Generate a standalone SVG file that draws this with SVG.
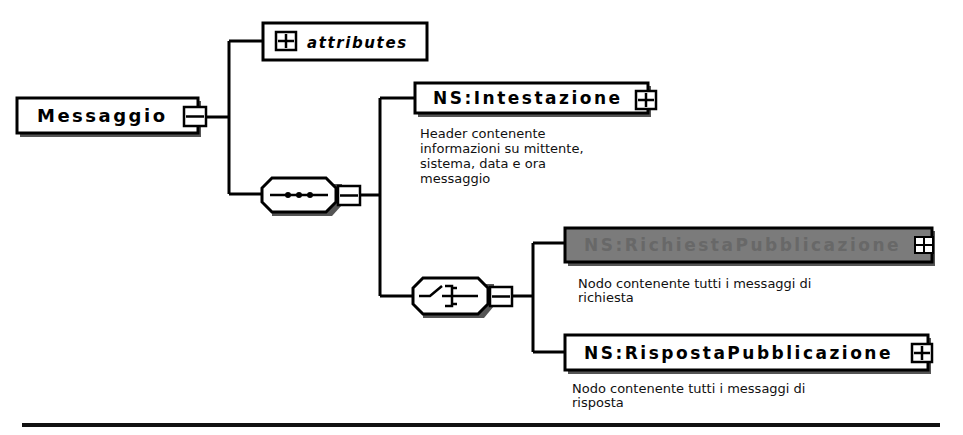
<svg xmlns="http://www.w3.org/2000/svg" width="963" height="435" viewBox="0 0 963 435">
<style>
.box{fill:#fff;stroke:#000;stroke-width:3}
.shadow{fill:#555}
.btn{fill:#fff;stroke:#000;stroke-width:2.5}
.t{font-family:"DejaVu Sans",Verdana,sans-serif;font-weight:bold;font-size:17px;letter-spacing:2.5px;fill:#000}
.d{font-family:"DejaVu Sans",Verdana,sans-serif;font-size:13px;fill:#111}
.c{fill:none;stroke:#000;stroke-width:3}
</style>
<defs>
<g id="plus"><rect class="btn" x="0" y="0" width="20" height="18"/><path d="M10 2V16M2 9H18" stroke="#000" stroke-width="2.5"/></g>
<g id="minus"><rect class="btn" x="0" y="0" width="22" height="19"/><path d="M2 9.5H20" stroke="#000" stroke-width="2.5"/></g>
</defs>
<rect width="963" height="435" fill="#fff"/>
<g id="connectors">
<path class="c" d="M206 117H229M229 41V194M229 41H263M229 194H262"/>
<path class="c" d="M360 195H380M380 98V296M380 98H415M380 296H413"/>
<path class="c" d="M512 296H533M533 243V352M533 243H565M533 352H565"/>
</g>
<g id="messaggio">
<rect class="shadow" x="20" y="101" width="181" height="36"/>
<rect class="box" x="17" y="98" width="181" height="35"/>
<text class="t" x="37" y="122" style="font-size:18px">Messaggio</text>
<use href="#minus" x="184" y="107"/>
</g>
<g id="attributes">
<rect class="box" x="263" y="23" width="164" height="37"/>
<use href="#plus" x="276" y="32"/>
<text class="t" x="307" y="48" style="font-style:italic;font-size:15px;letter-spacing:1.6px">attributes</text>
</g>
<g id="intestazione">
<rect class="shadow" x="418" y="86" width="233" height="31"/>
<rect class="box" x="415" y="83" width="233" height="30"/>
<text class="t" x="433" y="104">NS:Intestazione</text>
<use href="#plus" x="636" y="91"/>
<text class="d" x="420" y="138">Header contenente</text>
<text class="d" x="420" y="153">informazioni su mittente,</text>
<text class="d" x="420" y="168">sistema, data e ora</text>
<text class="d" x="420" y="183">messaggio</text>
</g>
<g id="sequence">
<path class="shadow" d="M272 184H342V205L332 216H272Z"/>
<path class="box" d="M272 178H326L336 188V202L326 212H272L262 202V188Z"/>
<path d="M270 195H328" stroke="#000" stroke-width="2.5"/>
<circle cx="288" cy="195" r="3"/><circle cx="299" cy="195" r="3"/><circle cx="310" cy="195" r="3"/>
<use href="#minus" x="338" y="186"/>
</g>
<g id="choice">
<path class="shadow" d="M423 284H494V306L484 318H423Z"/>
<path class="box" d="M423 278H478L488 288V304L478 314H423L413 304V288Z"/>
<path d="M419 296H430L442 286M442 296H478M445 286H452V306H445M452 288H457M452 296H457M452 304H457" fill="none" stroke="#000" stroke-width="2.5"/>
<use href="#minus" x="490" y="287"/>
</g>
<g id="richiesta">
<rect class="shadow" x="568" y="231" width="367" height="35"/>
<rect x="565" y="228" width="367" height="34" fill="#7b7b7b" stroke="#000" stroke-width="3"/>
<text class="t" x="584" y="251" style="fill:#686868">NS:RichiestaPubblicazione</text>
<g transform="translate(914,236)"><rect x="0" y="0" width="20" height="18" fill="#000"/><rect x="2" y="2" width="7" height="6" fill="#fff"/><rect x="11" y="2" width="7" height="6" fill="#fff"/><rect x="2" y="10" width="7" height="6" fill="#fff"/><rect x="11" y="10" width="7" height="6" fill="#fff"/></g>
<text class="d" x="578" y="288">Nodo contenente tutti i messaggi di</text>
<text class="d" x="578" y="302">richiesta</text>
</g>
<g id="risposta">
<rect class="shadow" x="568" y="338" width="363" height="36"/>
<rect class="box" x="565" y="335" width="363" height="35"/>
<text class="t" x="584" y="359">NS:RispostaPubblicazione</text>
<use href="#plus" x="912" y="344"/>
<text class="d" x="572" y="393">Nodo contenente tutti i messaggi di</text>
<text class="d" x="572" y="407">risposta</text>
</g>
<path d="M22 425H940" stroke="#111" stroke-width="4"/>
</svg>
